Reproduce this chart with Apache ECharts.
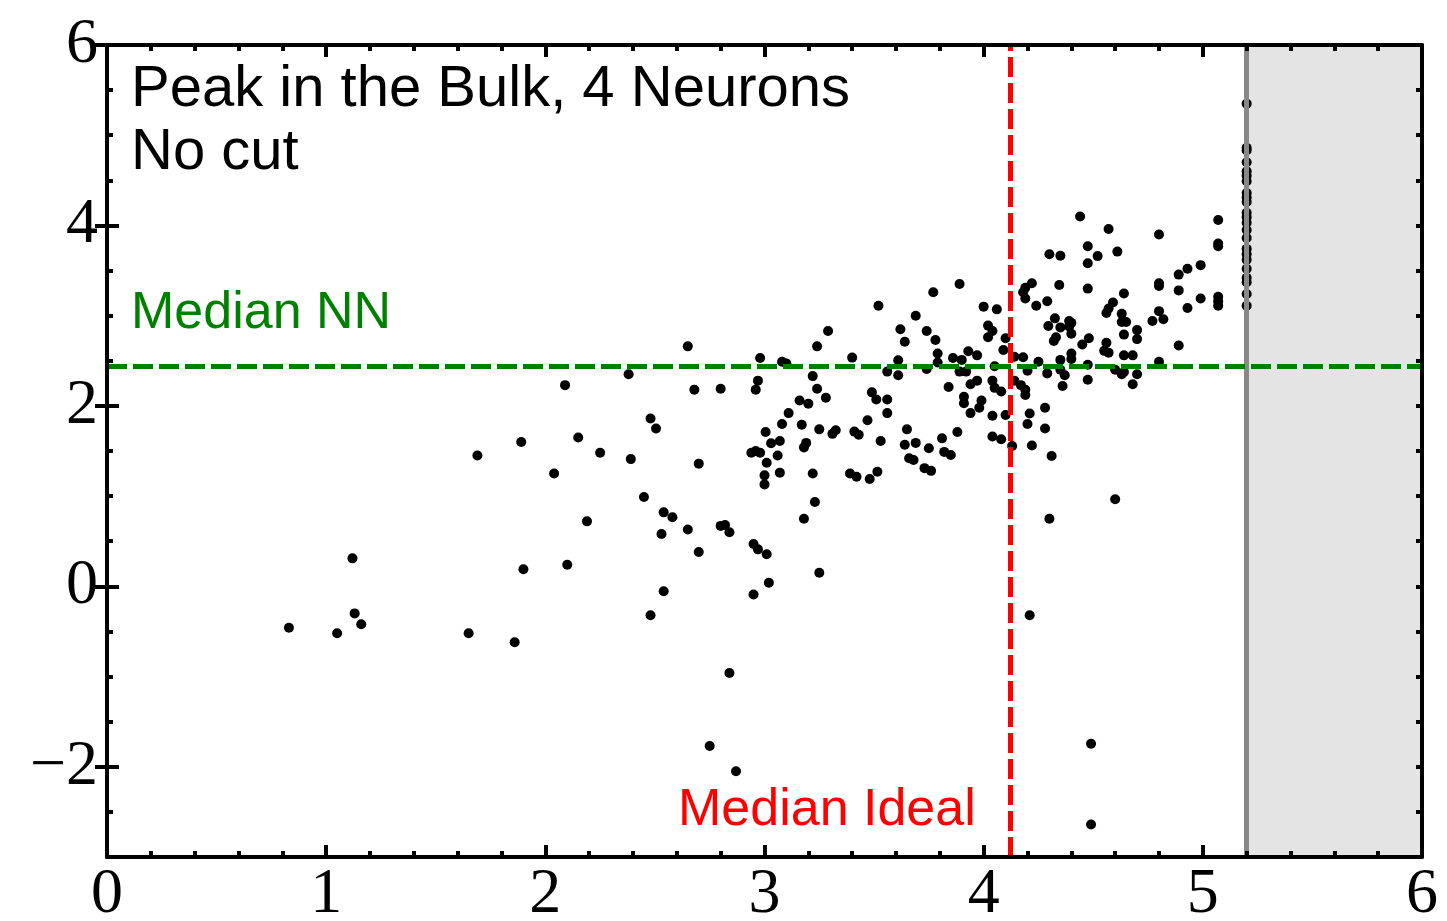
<!DOCTYPE html>
<html><head><meta charset="utf-8">
<script src="https://cdn.jsdelivr.net/npm/echarts@6/dist/echarts.min.js"></script>
<style>html,body{margin:0;padding:0;background:#fff}#c{width:1447px;height:921px}</style>
</head><body><div id="c"></div>
<script>
// ---- data ----
const xTickLabels = [0, 1, 2, 3, 4, 5, 6];
const yTickLabels = [-2, 0, 2, 4, 6];
const medianNN = 2.44;
const medianIdeal = 4.115;
const cutX = 5.2;
const leftPoints = [[0.83,-0.46],[1.05,-0.52],[1.12,0.31],[1.13,-0.30],[1.16,-0.42],[1.69,1.45],[1.89,1.60],[2.04,1.25],[1.90,0.19],[1.65,-0.52],[1.86,-0.62]];
const midPoints = [[2.65,2.66],[2.98,2.53],[3.08,2.49],[3.10,2.47],[2.38,2.35],[2.09,2.23],[2.68,2.18],[2.80,2.19],[2.97,2.28],[2.96,2.18],[3.11,1.92],[3.08,1.80],[3.005,1.71],[3.03,1.585],[3.07,1.61],[2.48,1.86],[2.505,1.75],[2.15,1.65],[2.25,1.48],[2.39,1.41],[2.70,1.36],[2.94,1.48],[2.96,1.50],[2.98,1.48],[3.06,1.45],[3.01,1.37],[3.07,1.26],[3.00,1.23],[3.00,1.13],[2.45,0.99],[2.19,0.72],[2.54,0.82],[2.58,0.765],[2.53,0.58],[2.65,0.63],[2.80,0.67],[2.82,0.68],[2.84,0.60],[2.70,0.38],[2.95,0.47],[2.97,0.41],[3.01,0.355],[2.10,0.24],[3.02,0.04],[2.54,-0.055],[2.95,-0.09],[2.48,-0.32],[2.84,-0.96],[2.75,-1.77],[2.87,-2.05]];
const centerPoints = [[3.77,3.26],[3.52,3.11],[3.69,3.00],[3.62,2.85],[3.74,2.83],[3.64,2.71],[3.78,2.73],[3.29,2.83],[3.24,2.66],[3.40,2.535],[3.61,2.505],[3.79,2.48],[3.56,2.38],[3.61,2.34],[3.74,2.41],[3.22,2.33],[3.24,2.19],[3.28,2.09],[3.16,2.06],[3.20,2.025],[3.17,1.79],[3.25,1.74],[3.31,1.69],[3.325,1.73],[3.18,1.54],[3.19,1.59],[3.41,1.715],[3.43,1.68],[3.49,2.15],[3.51,2.07],[3.56,2.07],[3.56,1.92],[3.47,1.84],[3.53,1.61],[3.65,1.74],[3.64,1.57],[3.69,1.59],[3.75,1.53],[3.66,1.42],[3.68,1.40],[3.73,1.31],[3.76,1.28],[3.22,1.25],[3.39,1.25],[3.42,1.215],[3.48,1.19],[3.515,1.27],[3.23,0.935],[3.18,0.75],[3.25,0.15],[3.81,1.64],
[3.89,3.35],[4.00,3.10],[4.06,3.07],[4.02,2.89],[4.04,2.83],[4.02,2.76],[4.10,2.75],[4.09,2.62],[3.79,2.58],[3.93,2.605],[3.97,2.56],[3.86,2.53],[3.90,2.51],[3.89,2.38],[3.92,2.38],[4.05,2.44],[4.04,2.28],[4.05,2.20],[4.08,2.16],[3.84,2.21],[3.94,2.24],[3.97,2.28],[3.91,2.10],[3.91,2.03],[3.99,2.06],[3.98,1.98],[3.94,1.92],[4.04,1.89],[4.10,1.90],[3.88,1.71],[4.04,1.66],[4.08,1.63],[3.82,1.49],[3.85,1.455]];
const rightPoints = [[4.44,4.10],[4.57,3.96],[4.475,3.77],[4.52,3.66],[4.475,3.58],[4.61,3.71],[4.30,3.68],[4.35,3.665],[4.345,3.34],[4.475,3.30],[4.22,3.36],[4.19,3.31],[4.18,3.26],[4.19,3.19],[4.29,3.16],[4.24,3.11],[4.64,3.245],[4.59,3.145],[4.57,3.08],[4.56,3.03],[4.63,3.02],[4.63,2.93],[4.65,2.93],[4.70,2.84],[4.70,2.74],[4.64,2.79],[4.325,2.97],[4.295,2.885],[4.35,2.87],[4.39,2.94],[4.40,2.92],[4.39,2.88],[4.40,2.80],[4.33,2.76],[4.32,2.72],[4.48,2.75],[4.45,2.68],[4.56,2.70],[4.55,2.61],[4.57,2.59],[4.40,2.58],[4.40,2.52],[4.64,2.56],[4.68,2.56],[4.35,2.51],[4.14,2.545],[4.18,2.54],[4.25,2.49],[4.475,2.455],[4.60,2.40],[4.64,2.375],[4.63,2.35],[4.70,2.35],[4.68,2.24],[4.20,2.39],[4.29,2.36],[4.35,2.40],[4.37,2.34],[4.475,2.29],[4.36,2.22],[4.14,2.28],[4.17,2.23],[4.19,2.18],[4.19,2.12],[4.28,1.98],[4.21,1.915],[4.20,1.80],[4.28,1.75],[4.22,1.56],[4.31,1.445],[4.13,1.555],
[5.07,4.06],[5.07,3.80],[5.07,3.77],[4.80,3.90],[4.99,3.56],[4.93,3.52],[4.89,3.455],[4.80,3.36],[4.80,3.33],[4.89,3.28],[4.99,3.19],[4.93,3.085],[5.07,3.21],[5.07,3.16],[5.07,3.11],[4.80,3.05],[4.82,2.96],[4.77,2.94],[4.89,2.67],[4.80,2.49],
[4.60,0.965],[4.30,0.75],[4.21,-0.32],[4.49,-1.745],[4.49,-2.64]];
const edgeYs = [5.35,4.86,4.83,4.70,4.60,4.55,4.49,4.36,4.31,4.26,4.14,4.09,4.03,3.95,3.86,3.74,3.68,3.62,3.52,3.42,3.37,3.24,3.11];

// ---- chart ----
const allPoints = leftPoints.concat(midPoints, centerPoints, rightPoints, edgeYs.map(y => [cutX, y]));
const fmtNum = v => v < 0 ? '\u2212' + Math.abs(v) : String(v);
const labelFont = {fontFamily: 'Liberation Serif', fontSize: 64, color: '#000'};
const lineStyle = {color: '#000', width: 4};
const chart = echarts.init(document.getElementById('c'), null, {renderer: 'canvas'});
const baseX = {type: 'value', min: 0, max: 6, interval: 1, z: 10, splitLine: {show: false},
  axisLine: {show: true, onZero: false, lineStyle: lineStyle},
  axisTick: {show: true, inside: true, length: 12, lineStyle: {color: '#000', width: 4}},
  minorTick: {show: true, splitNumber: 5, length: 6, lineStyle: {color: '#000', width: 4}}};
const shortY = {type: 'value', min: -3, max: 6, interval: 0.5, z: 10, splitLine: {show: false},
  axisTick: {show: true, inside: true, length: 6, lineStyle: {color: '#000', width: 4}}};
const longY = {type: 'value', min: -3, max: 6, z: 10, splitLine: {show: false},
  axisLine: {show: false}, axisLabel: {show: false},
  axisTick: {show: true, inside: true, length: 12, customValues: yTickLabels, lineStyle: {color: '#000', width: 4}}};
chart.setOption({
  animation: false,
  backgroundColor: '#fff',
  grid: {left: 107, right: 25, top: 45, bottom: 64, containLabel: false, outerBoundsMode: 'none'},
  xAxis: [
    Object.assign({}, baseX, {position: 'bottom', axisLabel: Object.assign({show: true, margin: 6, customValues: xTickLabels, formatter: fmtNum}, labelFont)}),
    Object.assign({}, baseX, {position: 'top', axisLabel: {show: false}})
  ],
  yAxis: [
    Object.assign({}, shortY, {position: 'left', axisLine: {show: true, onZero: false, lineStyle: lineStyle},
      axisLabel: Object.assign({show: true, margin: 9, interval: 0, customValues: yTickLabels, formatter: fmtNum}, labelFont)}),
    Object.assign({}, longY, {position: 'left'}),
    Object.assign({}, shortY, {position: 'right', axisLine: {show: true, onZero: false, lineStyle: lineStyle}, axisLabel: {show: false}}),
    Object.assign({}, longY, {position: 'right'})
  ],
  series: [
    {type: 'scatter', z: 1, data: [], silent: true,
     markArea: {silent: true, itemStyle: {color: '#e4e4e4'}, data: [[{xAxis: cutX, yAxis: -3}, {xAxis: 6, yAxis: 6}]]}},
    {type: 'scatter', z: 2, data: allPoints, symbol: 'circle', symbolSize: 10, itemStyle: {color: '#000', opacity: 1}},
    {type: 'scatter', z: 3, data: [], silent: true,
     markLine: {silent: true, symbol: ['none', 'none'], label: {show: false},
       data: [
         {xAxis: cutX, lineStyle: {color: '#888', width: 5, type: 'solid', opacity: 1}},
         {yAxis: medianNN, lineStyle: {color: '#008000', width: 5, type: [20, 6], opacity: 1}},
         {xAxis: medianIdeal, lineStyle: {color: '#ff0000', width: 5, type: [20, 6], opacity: 1}}
       ]}}
  ],
  graphic: [
    {type: 'text', left: 131, top: 61, z: 20, style: {text: 'Peak in the Bulk, 4 Neurons', font: '58px "Liberation Sans"', fill: '#000'}},
    {type: 'text', left: 131, top: 124, z: 20, style: {text: 'No cut', font: '58px "Liberation Sans"', fill: '#000'}},
    {type: 'text', left: 131, top: 288, z: 20, style: {text: 'Median NN', font: '52px "Liberation Sans"', fill: '#008000'}},
    {type: 'text', left: 678, top: 785, z: 20, style: {text: 'Median Ideal', font: '52px "Liberation Sans"', fill: '#ff0000'}}
  ]
});
</script></body></html>
